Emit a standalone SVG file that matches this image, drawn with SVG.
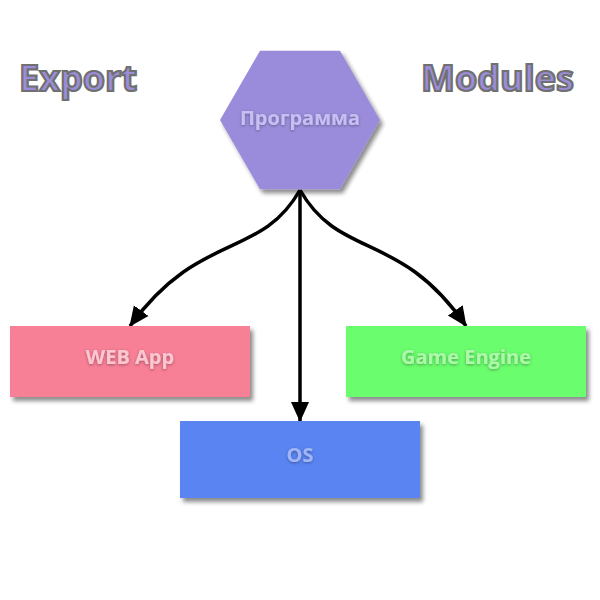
<svg xmlns="http://www.w3.org/2000/svg" width="600" height="600" viewBox="0 0 600 600">
<defs>
<filter id="shadow" x="-20%" y="-20%" width="140%" height="150%">
<feDropShadow dx="3" dy="4" stdDeviation="2" flood-color="#000" flood-opacity="0.45"/>
</filter>
<filter id="glow" x="-20%" y="-50%" width="140%" height="200%">
<feDropShadow dx="0" dy="1" stdDeviation="1.5" flood-color="#000" flood-opacity="0.35"/>
</filter>
<marker id="arrow" viewBox="0 0 20 20" refX="19" refY="10" markerWidth="20" markerHeight="20" markerUnits="userSpaceOnUse" orient="auto">
<path d="M0,1 L20,10 L0,19 Z" fill="#000"/>
</marker>
</defs>
<style>
.title{font-family:"Open Sans","Noto Sans","Liberation Sans",sans-serif;font-weight:bold;font-size:36px;fill:#9b8ddb;stroke:#707070;stroke-width:2.2px}
.label{font-family:"Open Sans","Noto Sans","Liberation Sans",sans-serif;font-weight:bold;font-size:20px;text-anchor:middle;dominant-baseline:central;filter:url(#glow)}
.edge{fill:none;stroke:#000;stroke-width:3.5px;marker-end:url(#arrow)}
</style>
<rect width="600" height="600" fill="#fff"/>
<text class="title" x="19" y="91">Export</text>
<text class="title" x="421" y="91">Modules</text>
<g id="connectors">
<path class="edge" d="M300,190 C260,260 200,230 130,326"/>
<path class="edge" d="M300,190 C340,260 400,230 466,326"/>
<path class="edge" d="M300,190 L300,421"/>
</g>
<g id="programma">
<polygon points="380,120 340,189.3 260,189.3 220,120 260,50.7 340,50.7" fill="#9a8cda" filter="url(#shadow)"/>
<text class="label" x="300" y="117" fill="#c6bff2">Программа</text>
</g>
<g id="webapp">
<rect x="10" y="326" width="240" height="71" fill="#f77f96" filter="url(#shadow)"/>
<text class="label" x="130" y="356" fill="#fbc7d1">WEB App</text>
</g>
<g id="gameengine">
<rect x="346" y="326" width="240" height="71" fill="#6afd6d" filter="url(#shadow)"/>
<text class="label" x="466" y="356" fill="#aef8ab">Game Engine</text>
</g>
<g id="os">
<rect x="180" y="421" width="240" height="77" fill="#5a84f2" filter="url(#shadow)"/>
<text class="label" x="300" y="454" fill="#a0b6f6">OS</text>
</g>
</svg>
